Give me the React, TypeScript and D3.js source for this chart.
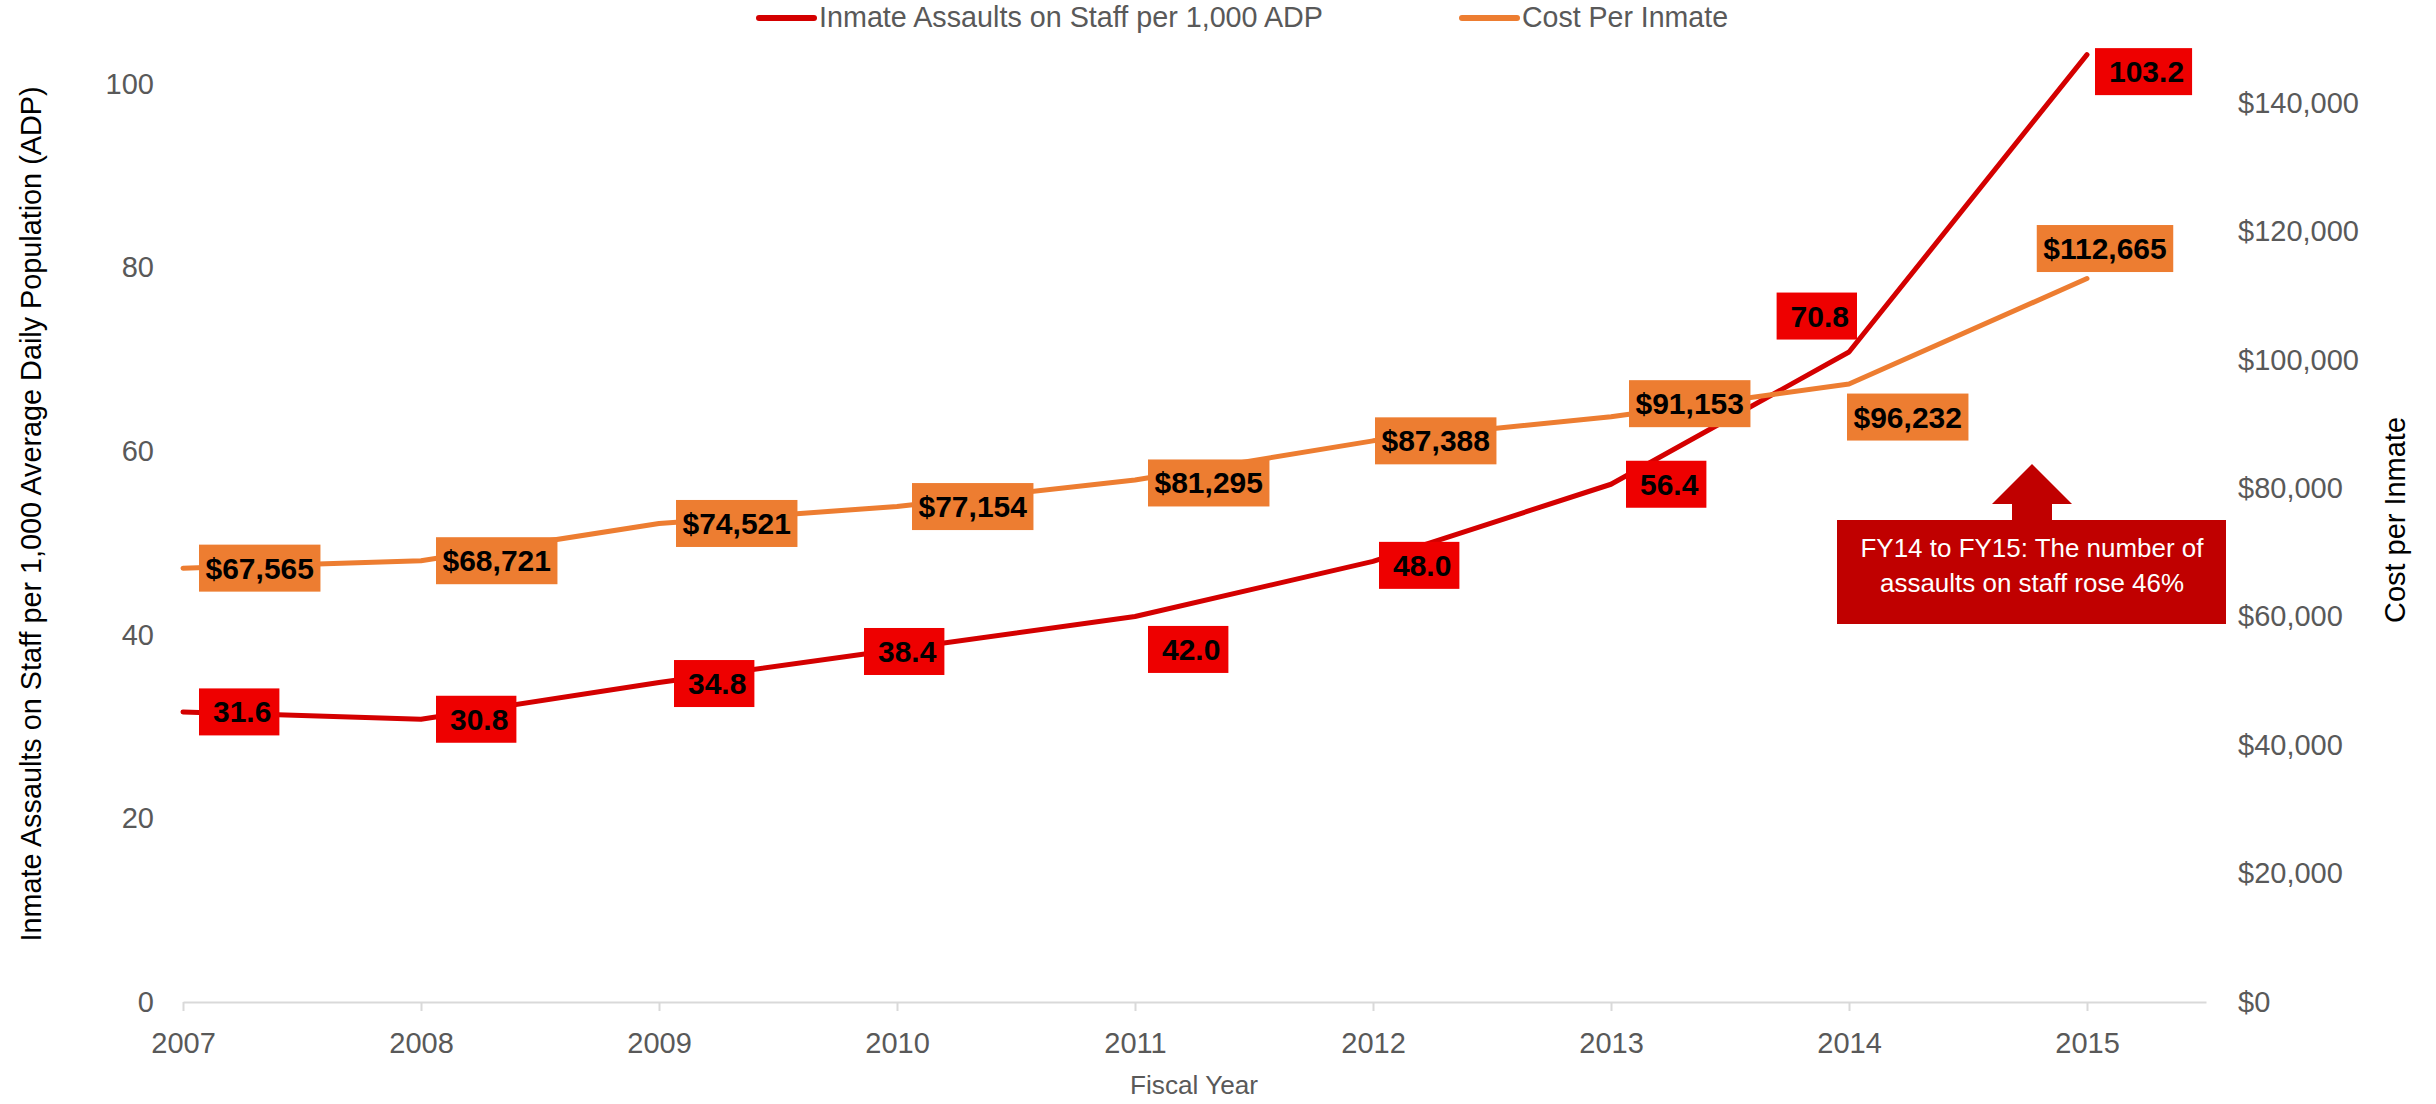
import React, { useRef, useEffect } from "react";
import * as d3 from "d3";

// Data
const years = [2007, 2008, 2009, 2010, 2011, 2012, 2013, 2014, 2015];
const assaults = [31.6, 30.8, 34.8, 38.4, 42.0, 48.0, 56.4, 70.8, 103.2];
const costs = [67565, 68721, 74521, 77154, 81295, 87388, 91153, 96232, 112665];
const leftTicks = [0, 20, 40, 60, 80, 100];
const rightTicks = [0, 20000, 40000, 60000, 80000, 100000, 120000, 140000];

const seriesNames = ["Inmate Assaults on Staff per 1,000 ADP", "Cost Per Inmate"];
const leftTitle = "Inmate Assaults on Staff per 1,000 Average Daily Population (ADP)";
const rightTitle = "Cost per Inmate";
const xTitle = "Fiscal Year";
const noteLines = ["FY14 to FY15: The number of", "assaults on staff rose 46%"];

// label placement: box anchor relative to the point
const redLabelPos = [
  { a: "start", dx: 16, dy: 0 },
  { a: "start", dx: 15, dy: 0 },
  { a: "start", dx: 15, dy: 1 },
  { a: "start", dx: -33, dy: 2 },
  { a: "start", dx: 13, dy: 33 },
  { a: "start", dx: 6, dy: 4 },
  { a: "start", dx: 15, dy: 0 },
  { a: "end", dx: 8, dy: -36 },
  { a: "start", dx: 8, dy: 17 },
];
const orangeLabelPos = [
  { a: "start", dx: 16, dy: 0 },
  { a: "start", dx: 15, dy: 0 },
  { a: "start", dx: 17, dy: 0 },
  { a: "start", dx: 15, dy: 0 },
  { a: "start", dx: 13, dy: 3 },
  { a: "start", dx: 2, dy: 0 },
  { a: "start", dx: 18, dy: -13 },
  { a: "start", dx: -2, dy: 33 },
  { a: "middle", dx: 18, dy: -30 },
];

const W = 2436;
const H = 1104;
const FONT = "'Liberation Sans', Arial, sans-serif";
const GREY = "#595959";
const RED_LINE = "#D40000";
const RED_BOX = "#EE0000";
const ORANGE = "#ED7D31";
const DARK_RED = "#C00000";

export default function App() {
  const svgRef = useRef<SVGSVGElement | null>(null);

  useEffect(() => {
    const svg = d3.select(svgRef.current);
    svg.selectAll("*").remove();

    const x = d3.scaleLinear().domain([2007, 2015.5]).range([183, 2206]);
    const yL = d3.scaleLinear().domain([0, 100]).range([1002, 84]);
    const yR = d3.scaleLinear().domain([0, 140000]).range([1002, 103]);

    // x axis
    const xAxis = svg.append("g")
      .attr("transform", "translate(0,1002)")
      .call(d3.axisBottom(x).tickValues(years).tickFormat(d3.format("d")).tickSize(9).tickSizeOuter(0).tickPadding(21));
    xAxis.select(".domain").attr("stroke", "#D9D9D9").attr("stroke-width", 2);
    xAxis.selectAll(".tick line").attr("stroke", "#D9D9D9").attr("stroke-width", 2);
    xAxis.selectAll(".tick text").attr("fill", GREY).style("font-family", FONT).style("font-size", "29px");

    // left axis
    const lAxis = svg.append("g")
      .attr("transform", "translate(183,0)")
      .call(d3.axisLeft(yL).tickValues(leftTicks).tickSize(0).tickPadding(29));
    lAxis.select(".domain").remove();
    lAxis.selectAll(".tick text").attr("fill", GREY).style("font-family", FONT).style("font-size", "29px");

    // right axis
    const rAxis = svg.append("g")
      .attr("transform", "translate(2206,0)")
      .call(d3.axisRight(yR).tickValues(rightTicks).tickFormat((d) => "$" + d3.format(",")(d as number)).tickSize(0).tickPadding(32));
    rAxis.select(".domain").remove();
    rAxis.selectAll(".tick text").attr("fill", GREY).style("font-family", FONT).style("font-size", "29px");

    // axis titles
    svg.append("text")
      .attr("transform", "translate(41,514) rotate(-90)")
      .attr("text-anchor", "middle")
      .attr("textLength", 855).attr("lengthAdjust", "spacingAndGlyphs")
      .style("font-family", FONT).style("font-size", "29px").attr("fill", "#000")
      .text(leftTitle);
    svg.append("text")
      .attr("transform", "translate(2405,520) rotate(-90)")
      .attr("text-anchor", "middle")
      .attr("textLength", 206).attr("lengthAdjust", "spacingAndGlyphs")
      .style("font-family", FONT).style("font-size", "29px").attr("fill", "#000")
      .text(rightTitle);
    svg.append("text")
      .attr("x", 1194).attr("y", 1094)
      .attr("text-anchor", "middle")
      .attr("textLength", 128).attr("lengthAdjust", "spacingAndGlyphs")
      .style("font-family", FONT).style("font-size", "26px").attr("fill", GREY)
      .text(xTitle);

    // legend
    const legend = [
      { x1: 759, x2: 814, tx: 819, len: 504, color: RED_LINE, name: seriesNames[0] },
      { x1: 1462, x2: 1517, tx: 1522, len: 206, color: ORANGE, name: seriesNames[1] },
    ];
    legend.forEach((l) => {
      svg.append("line")
        .attr("x1", l.x1).attr("x2", l.x2).attr("y1", 18).attr("y2", 18)
        .attr("stroke", l.color).attr("stroke-width", 6).attr("stroke-linecap", "round");
      svg.append("text")
        .attr("x", l.tx).attr("y", 27)
        .attr("textLength", l.len).attr("lengthAdjust", "spacingAndGlyphs")
        .style("font-family", FONT).style("font-size", "29px").attr("fill", GREY)
        .text(l.name);
    });

    // lines
    const redLine = d3.line<number>().x((_, i) => x(years[i])).y((d) => yL(d));
    const orangeLine = d3.line<number>().x((_, i) => x(years[i])).y((d) => yR(d));
    svg.append("path").attr("d", redLine(assaults))
      .attr("fill", "none").attr("stroke", RED_LINE).attr("stroke-width", 5)
      .attr("stroke-linejoin", "round").attr("stroke-linecap", "round");
    svg.append("path").attr("d", orangeLine(costs))
      .attr("fill", "none").attr("stroke", ORANGE).attr("stroke-width", 5)
      .attr("stroke-linejoin", "round").attr("stroke-linecap", "round");

    // data labels
    function addLabel(px: number, py: number, txt: string, pos: any, fill: string, padL: number, padR: number) {
      const g = svg.append("g");
      const rect = g.append("rect").attr("fill", fill);
      const t = g.append("text")
        .style("font-family", FONT).style("font-size", "30px").style("font-weight", "bold")
        .attr("fill", "#000").text(txt);
      const tw = (t.node() as SVGTextElement).getComputedTextLength();
      const bw = tw + padL + padR;
      const bh = 47;
      let left = px + pos.dx;
      if (pos.a === "end") left = px + pos.dx - bw;
      if (pos.a === "middle") left = px + pos.dx - bw / 2;
      const cy = py + pos.dy;
      rect.attr("x", left).attr("y", cy - bh / 2).attr("width", bw).attr("height", bh);
      t.attr("x", left + padL).attr("y", cy + 10.5);
    }
    assaults.forEach((v, i) => {
      addLabel(x(years[i]), yL(v), d3.format(".1f")(v), redLabelPos[i], RED_BOX, 14, 8);
    });
    costs.forEach((v, i) => {
      addLabel(x(years[i]), yR(v), "$" + d3.format(",")(v), orangeLabelPos[i], ORANGE, 6.5, 6.5);
    });

    // annotation callout
    svg.append("polygon")
      .attr("points", "2012,521 2012,504 1992,504 2032,464 2072,504 2052,504 2052,521")
      .attr("fill", DARK_RED);
    svg.append("rect")
      .attr("x", 1837).attr("y", 520).attr("width", 389).attr("height", 104)
      .attr("fill", DARK_RED);
    const noteLens = [343, 304];
    noteLines.forEach((line, i) => {
      svg.append("text")
        .attr("x", 2032).attr("y", 557 + i * 35)
        .attr("text-anchor", "middle")
        .attr("textLength", noteLens[i]).attr("lengthAdjust", "spacingAndGlyphs")
        .style("font-family", FONT).style("font-size", "25px").attr("fill", "#fff")
        .text(line);
    });
  }, []);

  return (
    <svg
      ref={svgRef}
      width={W}
      height={H}
      style={{ position: "absolute", left: 0, top: 0, display: "block", background: "#fff" }}
    />
  );
}
